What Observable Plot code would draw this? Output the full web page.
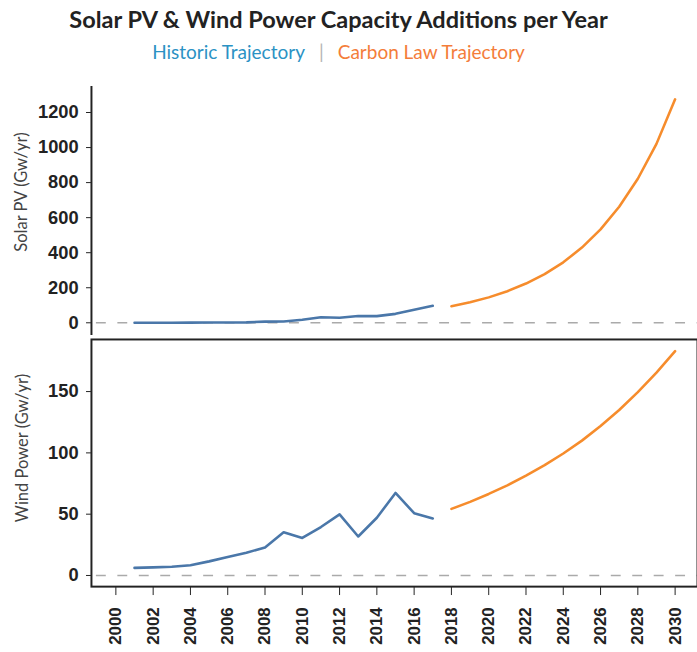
<!DOCTYPE html>
<html>
<head>
<meta charset="utf-8">
<script src="https://cdn.jsdelivr.net/npm/d3@7"></script>
<script src="https://cdn.jsdelivr.net/npm/@observablehq/plot@0.6"></script>
<style>
  html, body { margin: 0; padding: 0; background: #fff; }
  #wrap { position: relative; width: 697px; height: 652px; overflow: hidden; background: #fff; }
  #wrap svg { position: absolute; left: 0; }
  .title { position: absolute; left: 0; width: 677px; text-align: center; font-family: Lato, "Open Sans", sans-serif; }
  .ylab { position: absolute; font-family: Lato, "Open Sans", sans-serif; font-weight: 400; color: #444; font-size: 16.5px; white-space: nowrap; transform: translate(-50%, -50%) rotate(-90deg); }
  [aria-label^="x-axis"] text { font-size: 17px; }
</style>
</head>
<body>
<div id="wrap"></div>
<script>
// ---- data ----
const histYears = [2001,2002,2003,2004,2005,2006,2007,2008,2009,2010,2011,2012,2013,2014,2015,2016,2017];
const solarHist = [0.3,0.5,0.6,1.1,1.4,1.6,2.5,6.7,7.4,17,32,29,39,38,51,75,97];
const windHist = [6.2,6.6,7.1,8.4,11.5,15,18.5,22.9,35.2,30.6,39.5,49.8,31.8,47.1,67.3,50.8,46.5];
const lawYears = [2018,2019,2020,2021,2022,2023,2024,2025,2026,2027,2028,2029,2030];
const solarLaw = [94,117,145,180,224,278,345,429,533,662,822,1021,1275];
const windLaw = [54.3,60,66.5,73.5,81.5,90,99.5,110,122,135,149.5,165.5,183];
const xTicks = [2000,2002,2004,2006,2008,2010,2012,2014,2016,2018,2020,2022,2024,2026,2028,2030];
const solarTicks = [0,200,400,600,800,1000,1200];
const windTicks = [0,50,100,150];
const titleText = "Solar PV & Wind Power Capacity Additions per Year";
const legendHist = "Historic Trajectory";
const legendLaw = "Carbon Law Trajectory";
const solarLabel = "Solar PV (Gw/yr)";
const windLabel = "Wind Power (Gw/yr)";

const blue = "#4a77a9", orange = "#f68c2c";
const hist = (vals) => histYears.map((y, i) => ({year: y, v: vals[i]}));
const law = (vals) => lawYears.map((y, i) => ({year: y, v: vals[i]}));

const xDomain = [1998.69, 2031.2];
const common = {
  width: 705,
  marginLeft: 92,
  marginRight: 0,
  style: {fontFamily: "'Liberation Sans', Arial, sans-serif", fontSize: "18.5px", fontWeight: "bold", color: "#222", background: "transparent"}
};

const wrap = document.getElementById("wrap");

// ---- top panel: solar ----
const solarPlot = Plot.plot({
  ...common,
  height: 339,
  marginTop: 87,
  marginBottom: 0,
  x: {domain: xDomain, axis: null},
  y: {domain: [-73.3, 1348.4], ticks: solarTicks, tickSize: 5, tickPadding: 8, label: null, tickFormat: d => String(d)},
  marks: [
    Plot.ruleY([0], {stroke: "#aaa", strokeWidth: 1.5, strokeDasharray: "10,11.7", strokeDashoffset: -5}),
    Plot.ruleX([xDomain[0]], {stroke: "#222", strokeWidth: 2}),
    Plot.line(hist(solarHist), {x: "year", y: "v", stroke: blue, strokeWidth: 2.6}),
    Plot.line(law(solarLaw), {x: "year", y: "v", stroke: orange, strokeWidth: 2.6})
  ]
});
solarPlot.style.top = "0px";
wrap.appendChild(solarPlot);

// ---- bottom panel: wind ----
const windPlot = Plot.plot({
  ...common,
  height: 315,
  marginTop: 2,
  marginBottom: 63,
  x: {domain: xDomain, ticks: xTicks, tickFormat: d => String(d), tickRotate: -90, tickSize: 9, tickPadding: 12, label: null},
  y: {domain: [-9.1, 192.5], ticks: windTicks, tickSize: 5, tickPadding: 8, label: null, tickFormat: d => String(d)},
  marks: [
    Plot.ruleY([0], {stroke: "#aaa", strokeWidth: 1.5, strokeDasharray: "10,11.7", strokeDashoffset: -5}),
    Plot.frame({stroke: "#222", strokeWidth: 2}),
    Plot.line(hist(windHist), {x: "year", y: "v", stroke: blue, strokeWidth: 2.6}),
    Plot.line(law(windLaw), {x: "year", y: "v", stroke: orange, strokeWidth: 2.6})
  ]
});
windPlot.style.top = "337px";
wrap.appendChild(windPlot);

// ---- titles ----
const t = document.createElement("div");
t.className = "title";
t.style.top = "7px";
t.style.fontSize = "23.5px";
t.style.fontWeight = "bold";
t.style.color = "#222";
t.style.lineHeight = "24px";
t.textContent = titleText;
wrap.appendChild(t);

const s = document.createElement("div");
s.className = "title";
s.style.top = "42px";
s.style.fontSize = "19px";
s.style.lineHeight = "20px";
s.style.fontWeight = "400";
s.innerHTML = `<span style="color:#2b92c4">${legendHist}</span><span style="color:#b5b5b5;margin:0 14px">|</span><span style="color:#f47d3a">${legendLaw}</span>`;
wrap.appendChild(s);

function ylab(text, x, y) {
  const d = document.createElement("div");
  d.className = "ylab";
  d.style.left = x + "px";
  d.style.top = y + "px";
  d.textContent = text;
  wrap.appendChild(d);
}
ylab(solarLabel, 21, 192);
ylab(windLabel, 22, 448);
</script>
</body>
</html>
